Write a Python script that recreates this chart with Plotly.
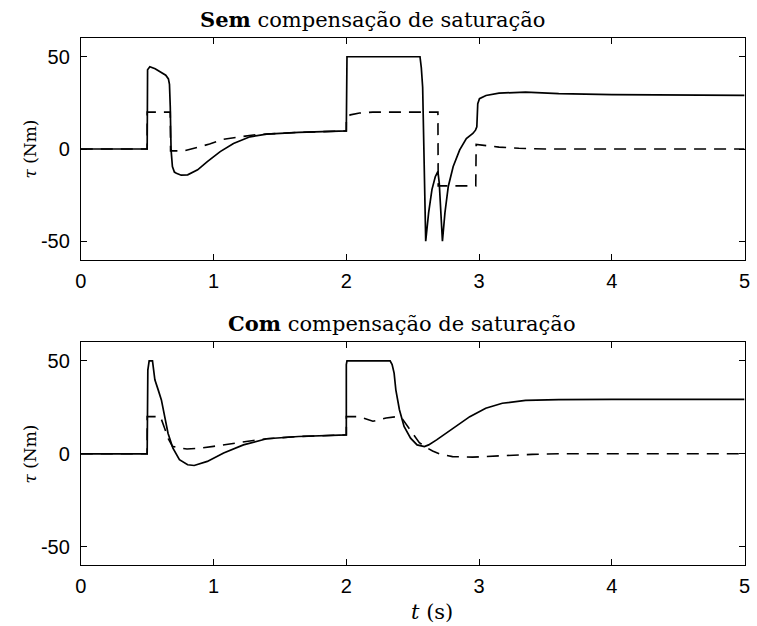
import plotly.graph_objects as go

# Time instants (s) and torque values (Nm) for each curve
top_solid_t = [0, 0.5, 0.503, 0.52, 0.56, 0.61, 0.64, 0.66, 0.668, 0.674, 0.68, 0.69, 0.705, 0.72,
               0.756, 0.805, 0.88, 0.953, 1.05, 1.15, 1.274, 1.40, 1.64, 2.0, 2.0, 2.005, 2.555,
               2.565, 2.575, 2.583, 2.59, 2.598, 2.62, 2.645, 2.67, 2.69, 2.70, 2.711, 2.724,
               2.743, 2.768, 2.805, 2.854, 2.904, 2.953, 2.973, 2.983, 2.99, 3.003, 3.052, 3.15,
               3.35, 3.6, 4.0, 4.5, 5.0]
top_solid_v = [0, 0, 43, 44.6, 43.5, 41.6, 40, 38, 35, 22.7, -0.5, -9.5, -12.5, -13.1,
               -14.2, -14, -11.3, -6.8, -1.4, 3.0, 6.6, 8.1, 9.0, 9.8, 48, 50, 50,
               44, 33.5, -2.3, -38, -50, -34.5, -22, -15, -12.2, -18.5, -34.5, -50,
               -34.5, -20.3, -9.5, -0.5, 5.7, 8.4, 10.2, 12, 24.6, 27.3, 29, 30.3,
               30.8, 30.0, 29.5, 29.2, 29.1]

top_dash_t = [0, 0.5, 0.5, 0.674, 0.676, 0.78, 0.88, 0.97, 1.07, 1.17, 1.3, 1.4, 1.64, 2.0, 2.0,
              2.03, 2.1, 2.2, 2.69, 2.692, 2.975, 2.978, 3.05, 3.15, 3.3, 3.5, 5.0]
top_dash_v = [0, 0, 20, 20, -1, -1, 0.9, 2.7, 5.2, 6.3, 7.6, 8.1, 9.0, 9.8, 17,
              18.5, 19.5, 20, 20, -20, -20, 2.5, 2.0, 1.0, 0.4, 0, 0]

bot_solid_t = [0, 0.5, 0.505, 0.515, 0.54, 0.55, 0.558, 0.583, 0.607, 0.632, 0.657, 0.694, 0.743,
               0.805, 0.854, 0.953, 1.076, 1.225, 1.40, 1.64, 2.0, 2.0, 2.005, 2.33, 2.345, 2.36,
               2.373, 2.40, 2.435, 2.484, 2.533, 2.588, 2.62, 2.68, 2.805, 2.93, 3.05, 3.175,
               3.35, 3.6, 4.0, 5.0]
bot_solid_v = [0, 0, 45, 50, 50, 45, 39.8, 34.4, 29, 20, 11.1, 3, -3.2,
               -5.9, -6.3, -4.1, 0.4, 4.8, 8.1, 9.3, 10.2, 48, 50, 50, 48, 43.4,
               34.4, 23.7, 14.7, 8.4, 4.8, 3.9, 4.8, 7.5, 13.8, 20, 24.5, 27.2,
               28.7, 29.2, 29.3, 29.3]

bot_dash_t = [0, 0.5, 0.5, 0.6, 0.63, 0.66, 0.69, 0.75, 0.8, 0.9, 1.0, 1.1, 1.2, 1.3, 1.4, 1.64,
              2.0, 2.0, 2.1, 2.2, 2.3, 2.38, 2.42, 2.46, 2.5, 2.55, 2.6, 2.65, 2.7, 2.8, 2.95,
              3.15, 3.4, 3.6, 5.0]
bot_dash_v = [0, 0, 20, 20, 14, 8, 4, 3, 2.6, 3, 4, 5.2, 6.3, 7.2, 8.1, 9.3,
              10.2, 20, 20, 17.5, 19.3, 20, 19, 15, 11, 6, 3.5, 1.5, 0, -1.5, -1.8,
              -1, -0.3, 0, 0]

x_ticks = [0, 1, 2, 3, 4, 5]
y_ticks = [-50, 0, 50]
y_tick_text = ["-50", "0", "50"]

W, H = 757, 626
SERIF = "DejaVu Serif"
SANS = "Liberation Sans"

solid = dict(color="black", width=1.7)
dashed = dict(color="black", width=1.6, dash="12px,8px")

fig = go.Figure()
fig.add_trace(go.Scatter(x=top_solid_t, y=top_solid_v, mode="lines", line=solid, xaxis="x", yaxis="y"))
fig.add_trace(go.Scatter(x=top_dash_t, y=top_dash_v, mode="lines", line=dashed, xaxis="x", yaxis="y"))
fig.add_trace(go.Scatter(x=bot_solid_t, y=bot_solid_v, mode="lines", line=solid, xaxis="x2", yaxis="y2"))
fig.add_trace(go.Scatter(x=bot_dash_t, y=bot_dash_v, mode="lines", line=dashed, xaxis="x2", yaxis="y2"))

axis_style = dict(showline=True, linecolor="black", linewidth=1, mirror="ticks",
                  ticks="inside", ticklen=6, tickcolor="black", tickwidth=1,
                  showgrid=False, zeroline=False,
                  tickfont=dict(family=SANS, size=20, color="black"))

x_dom = [76 / W, 750.5 / W]
top_dom = [1 - 259.7 / H, 1 - 38.3 / H]
bot_dom = [1 - 565.3 / H, 1 - 342.3 / H]

fig.update_layout(
    width=W, height=H,
    margin=dict(l=0, r=0, t=0, b=0),
    paper_bgcolor="white", plot_bgcolor="white",
    showlegend=False,
    xaxis=dict(domain=x_dom, range=[0, 5], tickvals=x_ticks, anchor="y",
               ticklabelstandoff=3, **axis_style),
    yaxis=dict(domain=top_dom, range=[-60, 60], tickvals=y_ticks, ticktext=y_tick_text,
               anchor="x", ticklabelstandoff=6, **axis_style),
    xaxis2=dict(domain=x_dom, range=[0, 5], tickvals=x_ticks, anchor="y2",
                ticklabelstandoff=3, **axis_style),
    yaxis2=dict(domain=bot_dom, range=[-60, 60], tickvals=y_ticks, ticktext=y_tick_text,
                anchor="x2", ticklabelstandoff=6, **axis_style),
)

def px_note(text, x, y, size=20, angle=0):
    fig.add_annotation(text=text, x=x / W, y=1 - y / H, xref="paper", yref="paper",
                       showarrow=False, textangle=angle, xanchor="center", yanchor="middle",
                       font=dict(family=SERIF, size=size, color="black"))

px_note("<b>Sem</b> compensação de saturação", 372, 19, size=21)
px_note("<b>Com</b> compensação de saturação", 402, 323, size=21)
px_note("<i>τ</i> (Nm)", 24, 149, size=17, angle=-90)
px_note("<i>τ</i> (Nm)", 24, 454, size=17, angle=-90)
px_note("<i>t</i> (s)", 433, 612, size=21)

fig.write_html("out.html")
